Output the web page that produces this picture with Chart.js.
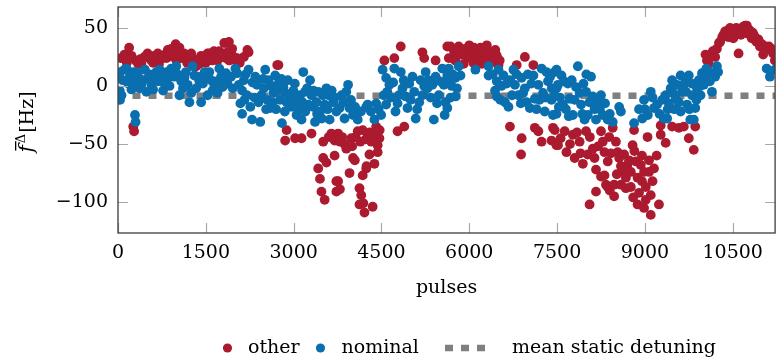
<!DOCTYPE html>
<html>
<head>
<meta charset="utf-8">
<script src="https://cdn.jsdelivr.net/npm/chart.js@4.4.0/dist/chart.umd.min.js"></script>
<style>
  html, body { margin: 0; padding: 0; background: #fff; overflow: hidden; }
</style>
</head>
<body>
<canvas id="detuning" width="780" height="363"></canvas>
<script>
// ── Data: [pulse index, mean detuning in Hz] ─────────────
const other = [
  [50,24],[90,24],[110,27],[150,20],[190,33],[230,26],[300,22],[345,19],[380,23],[400,19],[450,25],[505,28],
  [530,24],[570,22],[600,20],[620,26],[655,21],[680,28],[700,19],[740,24],[770,24],[800,27],[830,24],[850,31],
  [880,31],[910,32],[950,25],[985,36],[1000,22],[1020,29],[1050,33],[1080,24],[1130,28],[1150,24],[1180,20],
  [1220,22],[1250,28],[1280,24],[1300,20],[1335,17],[1390,19],[1420,26],[1445,22],[1480,24],[1500,20],[1530,28],
  [1560,28],[1590,24],[1610,22],[1640,30],[1675,27],[1700,22],[1730,30],[1760,25],[1785,28],[1815,37],[1840,24],
  [1870,37],[1870,29],[1895,38],[1900,22],[1920,27],[1950,32],[1980,25],[2010,22],[2035,24],[2080,20],[2150,25],
  [2210,31],[2230,29],[2720,18],[2740,18],
  [260,-35],[275,-39],
  [2880,-38],[2855,-47],[3025,-45],[3135,-45],[3305,-41],[3420,-71],[3450,-80],[3475,-91],[3505,-48],[3505,-62],
  [3530,-98],[3560,-66],[3600,-44],[3645,-41],[3700,-47],[3700,-60],[3730,-82],[3730,-91],[3760,-41],[3760,-82],
  [3790,-48],[3790,-89],[3830,-44],[3870,-50],[3900,-54],[3955,-75],[3985,-45],[4000,-52],[4015,-62],[4045,-64],
  [4060,-44],[4095,-39],[4125,-88],[4125,-102],[4140,-48],[4155,-94],[4180,-38],[4180,-77],[4190,-101],[4210,-109],
  [4230,-46],[4240,-71],[4245,-69],[4265,-42],[4295,-59],[4300,-40],[4325,-48],[4350,-104],[4360,-44],[4380,-67],
  [4410,-35],[4420,-42],[4435,-51],[4435,-57],[4465,-45],[4470,-38],[4775,-39],[4890,-35],
  [4550,22],[4720,24],[4830,34],[5200,29],[5230,24],[5425,22],[5625,34],[5650,24],[5680,34],[5710,24],[5740,30],
  [5760,22],[5795,29],[5820,34],[5850,27],[5880,30],[5905,19],[5935,32],[5960,25],[5990,27],[6000,35],[6020,24],
  [6045,29],[6070,20],[6080,33],[6105,32],[6130,28],[6150,21],[6160,25],[6190,33],[6200,24],[6215,19],[6245,29],
  [6260,31],[6275,22],[6300,35],[6330,30],[6360,27],[6380,24],[6415,21],[6430,25],[6445,31],[6470,26],[6500,18],
  [6520,22],[6810,18],[6950,25],[7095,18],
  [6695,-35],[6885,-59],[6895,-45],[7120,-36],[7180,-39],[7235,-48],[7405,-47],[7430,-36],[7460,-38],[7490,-51],
  [7515,-51],[7560,-45],[7630,-39],[7660,-57],[7720,-50],[7770,-42],[7800,-62],[7840,-40],[7885,-48],[7900,-58],
  [7940,-67],[7995,-39],[8025,-59],[8055,-102],[8060,-44],[8110,-54],[8140,-62],[8165,-72],[8165,-91],[8200,-52],
  [8250,-39],[8250,-78],[8280,-48],[8310,-57],[8310,-77],[8335,-85],[8365,-65],[8365,-87],[8390,-44],[8400,-90],
  [8420,-58],[8450,-36],[8475,-85],[8475,-95],[8505,-48],[8520,-76],[8535,-57],[8560,-62],[8590,-69],[8590,-85],
  [8620,-74],[8645,-59],[8675,-79],[8675,-88],[8700,-68],[8730,-64],[8760,-74],[8760,-87],[8790,-51],[8800,-96],
  [8815,-38],[8820,-56],[8845,-65],[8875,-79],[8875,-102],[8900,-92],[8930,-68],[8950,-82],[8950,-60],[8985,-74],
  [8985,-105],[9015,-87],[9015,-98],[9045,-44],[9070,-64],[9070,-74],[9100,-94],[9100,-111],[9130,-82],[9155,-71],
  [9200,-60],[9240,-102],[9270,-42],[9270,-34],[9325,-28],[9355,-49],[9465,-35],[9580,-36],[9665,-35],[9750,-45],
  [9835,-55],[9860,-35],
  [10035,27],[10060,22],[10090,19],[10100,24],[10145,27],[10160,30],[10200,25],[10230,32],[10265,37],[10285,38],
  [10320,42],[10340,44],[10370,47],[10380,45],[10420,48],[10430,42],[10455,50],[10470,44],[10490,48],[10510,41],
  [10540,46],[10560,50],[10570,45],[10600,28],[10620,48],[10640,44],[10660,46],[10680,51],[10700,47],[10715,52],
  [10740,52],[10750,49],[10765,45],[10790,48],[10825,41],[10840,46],[10860,44],[10880,42],[10905,38],[10940,40],
  [10965,34],[11000,36],[11020,27],[11060,34],[11080,31],[11120,34],[11160,32],[11190,28],[11220,22]
];

const nominal = [
  [5,-11],[20,10],[30,-4],[35,12],[35,-12],[60,-8],[80,5],[110,14],[145,15],[175,2],[205,9],[230,-3],[260,12],
  [290,4],[290,-25],[300,-31],[320,12],[345,8],[370,-2],[400,1],[430,5],[460,14],[485,-5],[515,7],[540,10],
  [570,1],[600,-3],[630,6],[655,12],[685,4],[710,14],[740,8],[770,-4],[795,2],[830,12],[855,7],[880,0],[910,15],
  [960,8],[995,17],[1020,10],[1050,-8],[1080,4],[1110,-2],[1135,7],[1160,12],[1190,1],[1220,-14],[1250,-6],
  [1275,17],[1305,9],[1335,-2],[1360,8],[1390,4],[1420,-14],[1450,2],[1480,12],[1505,7],[1530,-8],[1560,12],
  [1590,5],[1615,-4],[1645,1],[1680,4],[1700,-6],[1730,15],[1760,8],[1785,-1],[1810,6],[1845,11],[1870,2],
  [1930,8],[1960,-2],
  [2005,15],[2035,11],[2065,1],[2090,-15],[2120,-4],[2120,-24],[2150,5],[2160,-12],[2180,10],[2200,-8],[2230,14],
  [2260,-18],[2290,-29],[2300,3],[2330,-10],[2345,8],[2375,1],[2400,-14],[2430,-31],[2450,-8],[2480,6],[2490,-2],
  [2515,14],[2530,-20],[2550,-12],[2570,5],[2600,-19],[2620,0],[2640,-14],[2655,-6],[2685,9],[2700,-20],[2720,-4],
  [2740,2],[2770,-12],[2790,6],[2800,-32],[2825,-1],[2850,-22],[2860,-6],[2880,-14],[2900,5],[2940,-8],[2960,-18],
  [2995,-4],[3000,-12],[3020,2],[3050,-16],[3050,-25],[3080,-20],[3110,-8],[3135,-29],[3150,-14],[3165,12],
  [3195,-5],[3200,-22],[3230,-2],[3250,-16],[3280,5],[3305,-8],[3330,-18],[3340,-4],[3365,-31],[3390,-14],
  [3400,-24],[3420,-5],[3450,-22],[3480,-28],[3500,-8],[3530,-16],[3560,-2],[3580,-20],[3600,-8],[3615,-29],
  [3650,-4],[3675,-14],[3700,-10],[3730,-22],
  [3785,-19],[3820,-8],[3845,-14],[3870,-28],[3900,-5],[3930,1],[3955,-19],[3980,-12],[4015,-25],[4050,-18],
  [4095,-29],[4150,-22],[4240,-18],[4265,-16],[4320,-22],[4380,-29],[4410,-15],[4450,-20],[4495,-25],[4520,14],
  [4540,-8],[4580,7],[4580,-16],[4600,-5],[4635,1],[4660,-10],[4700,3],[4720,15],[4740,-22],[4775,-15],[4800,-8],
  [4830,12],[4860,-2],[4880,5],[4915,-9],[4945,-19],[4975,2],[5000,-12],[5030,8],[5060,-5],[5085,-28],[5110,-20],
  [5145,-14],[5170,5],[5200,-8],[5230,0],[5255,12],[5285,-2],[5300,5],[5340,-10],[5370,1],[5395,-29],[5425,8],
  [5450,-15],[5480,-8],[5500,4],[5540,15],[5565,1],[5580,-25],[5595,-14],[5625,9],
  [5625,4],[5625,-19],[5650,15],[5680,-10],[5700,0],[5720,10],[5765,7],[5765,-9],[5790,-2],[5820,17],[5850,9],
  [6105,14],[6330,17],[6330,9],[6400,10],[6440,-4],[6470,4],[6470,-9],[6500,14],[6530,-12],[6550,0],[6585,9],
  [6610,-14],[6640,2],[6670,-18],[6700,5],[6730,-8],[6755,14],[6780,1],[6810,10],[6840,-8],[6880,-15],[6895,7],
  [6920,-6],[6950,-2],[6980,-14],[7000,10],[7035,-19],[7060,2],[7095,9],[7120,-11],[7150,-20],[7180,1],[7200,-12],
  [7235,15],[7260,-6],[7290,-22],[7300,-10],[7320,12],[7345,4],[7380,8],[7405,-12],[7410,-2],[7430,-25],[7460,12],
  [7460,-8],[7490,-2],
  [7490,14],[7490,-24],[7515,1],[7530,-18],[7550,-10],[7575,9],[7600,-16],[7620,4],[7650,-20],[7685,2],[7700,-26],
  [7715,-11],[7750,5],[7770,-25],[7800,-12],[7825,-1],[7855,17],[7885,-6],[7910,-16],[7930,-24],[7950,2],[7970,-29],
  [7995,-5],[8000,10],[8025,-25],[8055,-14],[8080,8],[8110,-9],[8140,-20],[8165,-29],[8195,-14],[8230,-20],
  [8250,-8],[8280,-25],[8320,-15],[8365,-29],[8400,-24],[8450,-31],[8560,-18],[8590,-22],[8815,-32],[8900,-20],
  [8955,-28],[8985,-12],[9000,-20],[9050,-25],[9100,-5],[9130,-10],[9155,-19],[9210,-16],[9250,-24],[9295,-12],
  [9325,-28],
  [9355,-8],[9380,-28],[9390,-20],[9410,-15],[9440,-2],[9465,5],[9480,-6],[9500,-20],[9525,-11],[9550,1],
  [9580,-14],[9610,9],[9610,-22],[9635,-5],[9665,1],[9690,6],[9700,-5],[9720,-16],[9750,9],[9760,-20],[9775,-29],
  [9800,2],[9805,-8],[9835,-29],[9860,-19],[9880,-12],[9890,-2],[9920,5],[9940,0],[9950,-8],[9975,11],[10005,1],
  [10020,8],[10050,15],[10060,4],[10090,12],[10110,4],[10145,-5],[10175,11],[10200,8],[10230,17],[10250,12],
  [11080,15],[11135,8],[11220,14]
];

const meanStaticDetuning = -8.4;   // Hz
const pulseRange = [0, 11224];
const hzRange = [-126.6, 68];
const pulseTicks = [0, 1500, 3000, 4500, 6000, 7500, 9000, 10500];
const hzTicks = [-100, -50, 0, 50];

// ── Style ────────────────────────────────────────────────
const RED   = '#AB1A2E';
const BLUE  = '#0A6FAE';
const GREY  = '#808080';
const FONT  = "'DejaVu Serif', serif";
const FRAME = '#3c3c3c';
const TICK  = '#a8a8a8';
const DOT_R = 4.9;

const toXY = pts => pts.map(([x, y]) => ({ x, y }));
const minus = v => (v < 0 ? '\u2212' + Math.abs(v) : String(v));

// inward tick marks on all four sides, the box, axis title and legend
const framePlugin = {
  id: 'frame',
  afterDatasetsDraw(chart) {
    const { ctx, chartArea: a, scales: { x, y } } = chart;
    ctx.save();
    ctx.strokeStyle = TICK;
    ctx.lineWidth = 1.2;
    ctx.beginPath();
    x.ticks.forEach(t => {
      const px = Math.round(x.getPixelForValue(t.value)) + 0.5;
      ctx.moveTo(px, a.bottom); ctx.lineTo(px, a.bottom - 10);
      ctx.moveTo(px, a.top);    ctx.lineTo(px, a.top + 10);
    });
    y.ticks.forEach(t => {
      const py = Math.round(y.getPixelForValue(t.value)) + 0.5;
      ctx.moveTo(a.left, py);  ctx.lineTo(a.left + 10, py);
      ctx.moveTo(a.right, py); ctx.lineTo(a.right - 10, py);
    });
    ctx.stroke();
    ctx.strokeStyle = FRAME;
    ctx.lineWidth = 1.3;
    ctx.strokeRect(a.left, a.top, a.width, a.height);
    ctx.restore();
  },
  afterDraw(chart) {
    const { ctx } = chart;
    ctx.save();
    ctx.fillStyle = '#000';

    // y axis title: f-bar with superscript delta, then unit
    ctx.translate(33, 122);
    ctx.rotate(-Math.PI / 2);
    ctx.textBaseline = 'alphabetic';
    const fFont = 'italic 20px ' + FONT, dFont = '13px ' + FONT, uFont = '19px ' + FONT;
    ctx.font = fFont; const wf = ctx.measureText('f').width;
    ctx.font = dFont; const wd = ctx.measureText('\u0394').width;
    ctx.font = uFont; const wu = ctx.measureText('[Hz]').width;
    let cx = -(wf + 2 + wd + 1 + wu) / 2;
    ctx.font = fFont; ctx.fillText('f', cx, 0);
    ctx.fillRect(cx + 2, -18, wf + 2, 1.3);
    cx += wf + 2;
    ctx.font = dFont; ctx.fillText('\u0394', cx, -8);
    cx += wd + 1;
    ctx.font = uFont; ctx.fillText('[Hz]', cx, 0);
    ctx.restore();

    // legend row
    ctx.save();
    const ly = 348;
    ctx.font = '19px ' + FONT;
    ctx.textBaseline = 'middle';
    ctx.fillStyle = RED;
    ctx.beginPath(); ctx.arc(227.5, ly, 4.6, 0, Math.PI * 2); ctx.fill();
    ctx.fillStyle = BLUE;
    ctx.beginPath(); ctx.arc(320.5, ly, 4.6, 0, Math.PI * 2); ctx.fill();
    ctx.strokeStyle = GREY; ctx.lineWidth = 6.5; ctx.setLineDash([8, 8]);
    ctx.beginPath(); ctx.moveTo(445, ly); ctx.lineTo(486, ly); ctx.stroke();
    ctx.setLineDash([]);
    ctx.fillStyle = '#000';
    ctx.fillText('other', 248, ly);
    ctx.fillText('nominal', 341.5, ly);
    ctx.fillText('mean static detuning', 512, ly);
    ctx.restore();
  }
};

new Chart(document.getElementById('detuning'), {
  type: 'scatter',
  data: {
    datasets: [
      {
        label: 'mean static detuning',
        type: 'line',
        data: [{ x: pulseRange[0], y: meanStaticDetuning }, { x: pulseRange[1], y: meanStaticDetuning }],
        borderColor: GREY,
        borderWidth: 6.5,
        borderDash: [8, 8],
        borderDashOffset: 1.5,
        borderCapStyle: 'butt',
        pointRadius: 0,
        fill: false,
        order: 3
      },
      {
        label: 'other',
        data: toXY(other),
        backgroundColor: RED,
        borderWidth: 0,
        pointRadius: DOT_R,
        order: 2
      },
      {
        label: 'nominal',
        data: toXY(nominal),
        backgroundColor: BLUE,
        borderWidth: 0,
        pointRadius: DOT_R,
        order: 1
      }
    ]
  },
  options: {
    responsive: false,
    animation: false,
    devicePixelRatio: 1,
    layout: { padding: { top: 7, right: 0, bottom: 0, left: 0 } },
    plugins: { legend: { display: false }, tooltip: { enabled: false } },
    scales: {
      x: {
        type: 'linear',
        min: pulseRange[0],
        max: pulseRange[1],
        grid: { display: false, drawTicks: false },
        border: { display: false },
        ticks: {
          autoSkip: false,
          maxRotation: 0,
          padding: 9,
          color: '#000',
          font: { family: FONT, size: 19 },
          callback: v => String(v)
        },
        afterBuildTicks: s => { s.ticks = pulseTicks.map(value => ({ value })); },
        title: {
          display: true,
          text: 'pulses',
          color: '#000',
          font: { family: FONT, size: 19 },
          padding: { top: 0, bottom: 64 }
        },
        afterFit: s => { s.height = 130; s.paddingLeft = 0; s.paddingRight = 0; }
      },
      y: {
        type: 'linear',
        min: hzRange[0],
        max: hzRange[1],
        grid: { display: false, drawTicks: false },
        border: { display: false },
        ticks: {
          padding: 10,
          color: '#000',
          font: { family: FONT, size: 19 },
          callback: v => minus(v)
        },
        afterBuildTicks: s => { s.ticks = hzTicks.map(value => ({ value })); },
        afterFit: s => { s.width = 118; s.paddingTop = 0; s.paddingBottom = 0; }
      }
    }
  },
  plugins: [framePlugin]
});
</script>
</body>
</html>
